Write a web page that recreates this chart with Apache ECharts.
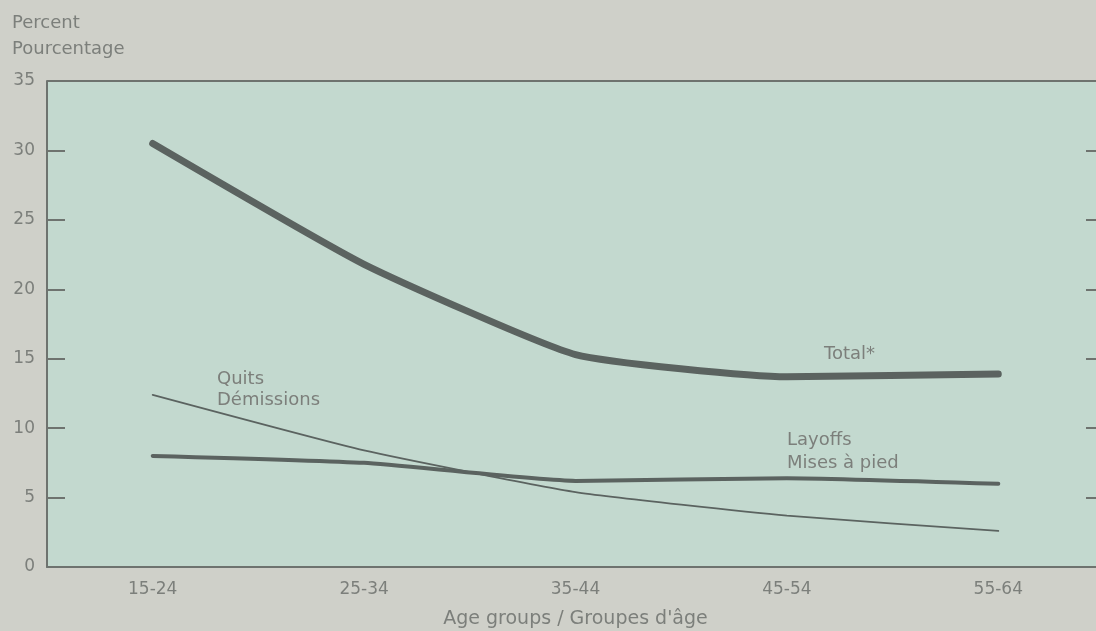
<!DOCTYPE html>
<html><head><meta charset="utf-8">
<script src="https://cdn.jsdelivr.net/npm/echarts@6/dist/echarts.min.js"></script>
<style>html,body{margin:0;padding:0;background:#cfd0c9;overflow:hidden;width:1096px;height:631px;}#c{width:1104px;height:631px;}</style>
</head><body><div id="c"></div>
<script>
const categories = ['15-24','25-34','35-44','45-54','55-64'];
const total = [30.5, 21.8, 15.3, 13.7, 13.9];
const layoffs = [8.0, 7.5, 6.2, 6.4, 6.0];
const quits = [12.4, 8.4, 5.4, 3.7, 2.6];
const yTicks = [0,5,10,15,20,25,30,35];

const txt = '#7c7f7b';
const lineC = '#5b6360';
const axC = '#6e736f';
const ff = '"DejaVu Sans"';
const chart = echarts.init(document.getElementById('c'));
chart.setOption({
  backgroundColor:'#cfd0c9',
  animation:false,
  grid:{left:47, top:81, right:0, height:486, outerBoundsMode:'none', containLabel:false,
    show:true, backgroundColor:'#c3d9cf', borderWidth:0},
  xAxis:{type:'category', data:categories, boundaryGap:true,
    axisLine:{lineStyle:{color:axC, width:2}},
    axisTick:{inside:true, length:18, alignWithLabel:true, lineStyle:{color:axC, width:2}},
    axisLabel:{color:txt, fontFamily:ff, fontSize:17, margin:14},
    name:'Age groups / Groupes d\'âge', nameLocation:'middle', nameGap:43,
    nameTextStyle:{color:txt, fontFamily:ff, fontSize:19}},
  yAxis:[{type:'value', min:0, max:35, interval:5,
    axisLine:{show:true, lineStyle:{color:axC, width:2}},
    axisTick:{show:true, inside:true, length:18, lineStyle:{color:axC, width:2}},
    axisLabel:{color:txt, fontFamily:ff, fontSize:17, margin:12,
      formatter:v=>yTicks.includes(v)?String(v):''},
    splitLine:{show:false}},
   {type:'value', min:0, max:35, interval:5, position:'right',
    axisLine:{show:false},
    axisTick:{show:true, inside:true, length:18, lineStyle:{color:axC, width:2}},
    axisLabel:{show:false}, splitLine:{show:false}}],
  graphic:[
    {type:'line', shape:{x1:47,y1:81,x2:1104,y2:81}, style:{stroke:axC, lineWidth:2}},
    {type:'text', left:12, top:14, style:{text:'Percent', fill:txt, font:'18px '+ff}},
    {type:'text', left:12, top:40, style:{text:'Pourcentage', fill:txt, font:'18px '+ff}},
    {type:'text', left:217, top:369, style:{text:'Quits\nDémissions', fill:txt, font:'18px '+ff, lineHeight:21}},
    {type:'text', left:824, top:345, style:{text:'Total*', fill:txt, font:'18px '+ff}},
    {type:'text', left:787, top:429, style:{text:'Layoffs\nMises à pied', fill:txt, font:'18px '+ff, lineHeight:23}}
  ],
  series:[
    {type:'line', data:total, symbol:'none', smooth:0.15, lineStyle:{color:lineC, width:7, cap:'round', join:'round'}},
    {type:'line', data:layoffs, symbol:'none', smooth:0.15, lineStyle:{color:lineC, width:4, cap:'round', join:'round'}},
    {type:'line', data:quits, symbol:'none', smooth:0.15, lineStyle:{color:lineC, width:1.8, cap:'round'}}
  ]
});
</script></body></html>
